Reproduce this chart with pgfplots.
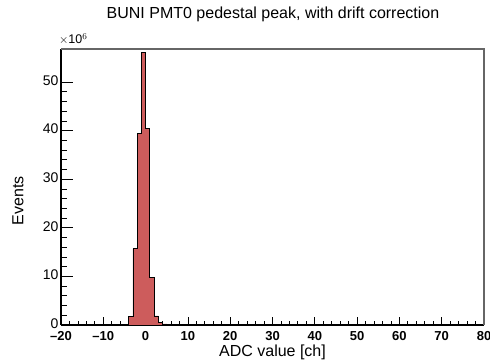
\documentclass[border=0pt]{standalone}
\usepackage{pgfplots}
\pgfplotsset{compat=1.18}
\usepackage{fontspec}
\setmainfont{Liberation Sans}
\definecolor{histred}{RGB}{205,92,92}
\begin{document}
\begin{tikzpicture}[x=1bp,y=1bp]
\path[use as bounding box] (0,0) rectangle (490,361);
\begin{axis}[
  at={(61bp,36bp)}, anchor=south west,
  width=423bp, height=276bp, scale only axis,
  xmin=-20, xmax=80, ymin=0, ymax=56.8,
  axis x line*=bottom, axis y line*=left,
  axis line style={black, line width=1.2pt},
  every axis y line/.append style={line width=0.8pt},
  tick align=inside,
  xtick={-20,-10,0,10,20,30,40,50,60,70,80},
  xticklabels={\textbf{–20},\textbf{–10},\textbf{0},\textbf{10},\textbf{20},\textbf{30},\textbf{40},\textbf{50},\textbf{60},\textbf{70},\textbf{80}},
  minor x tick num=4,
  ytick={0,10,20,30,40,50},
  minor y tick num=4,
  xtick style={black, line width=0.8pt, /pgfplots/major tick length=8bp, /pgfplots/minor tick length=4bp},
  ytick style={black, line width=0.8pt, /pgfplots/major tick length=12bp, /pgfplots/minor tick length=6bp},
  /pgf/number format/assume math mode=true,
  xticklabel style={font=\fontsize{13bp}{15bp}\selectfont, yshift=-2.5bp},
  yticklabel style={font=\fontsize{14bp}{16bp}\selectfont, xshift=1bp, yshift=1.5bp},
  clip=false,
]
\addplot[const plot, fill=histred, draw=black, line width=0.8pt] coordinates {
(-4,0) (-4,1.7) (-3,15.7) (-2,39.5) (-1,56.1) (0,40.4) (1,9.85) (2,1.86) (3,0.5) (4,0.22) (5,0.1) (6,0.04) (7,0) (7,0)
} \closedcycle;
\draw[gray!80!black, line width=1.2pt] (rel axis cs:0,1) -- (rel axis cs:1,1) -- (rel axis cs:1,0);
\node[anchor=south west, inner sep=0pt, font=\fontsize{12.5bp}{13bp}\selectfont] at (rel axis cs:0,1) [yshift=4bp, xshift=-2bp] {$\times$10$^{6}$};
\node[anchor=base, inner sep=0pt, font=\fontsize{16bp}{18bp}\selectfont] at (rel axis cs:0.5,0) [yshift=-31bp] {ADC value [ch]};
\node[xshift=-43bp, rotate=90, anchor=center, inner sep=0pt, font=\fontsize{16bp}{18bp}\selectfont] at (rel axis cs:0,0.45) {Events};
\end{axis}
\node[anchor=base, inner sep=0pt, font=\fontsize{16bp}{18bp}\selectfont] at (273,343) {BUNI PMT0 pedestal peak, with drift correction};
\end{tikzpicture}
\end{document}
